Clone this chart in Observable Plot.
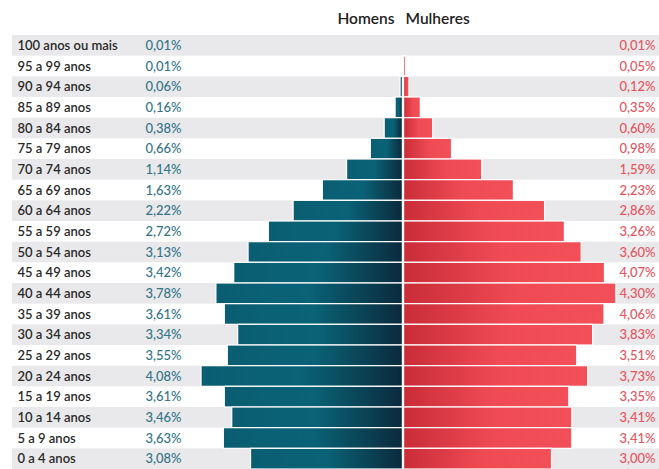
<!DOCTYPE html>
<html>
<head>
<meta charset="utf-8">
<script src="https://cdn.jsdelivr.net/npm/d3@7"></script>
<script src="https://cdn.jsdelivr.net/npm/@observablehq/plot@0.6"></script>
<style>
  body { margin: 0; background: #fff; }
  #chart svg { display: block; }
</style>
</head>
<body>
<div id="chart"></div>
<script>
const ages = ["100 anos ou mais","95 a 99 anos","90 a 94 anos","85 a 89 anos","80 a 84 anos","75 a 79 anos","70 a 74 anos","65 a 69 anos","60 a 64 anos","55 a 59 anos","50 a 54 anos","45 a 49 anos","40 a 44 anos","35 a 39 anos","30 a 34 anos","25 a 29 anos","20 a 24 anos","15 a 19 anos","10 a 14 anos","5 a 9 anos","0 a 4 anos"];
const homens = [0.01,0.01,0.06,0.16,0.38,0.66,1.14,1.63,2.22,2.72,3.13,3.42,3.78,3.61,3.34,3.55,4.08,3.61,3.46,3.63,3.08];
const mulheres = [0.01,0.05,0.12,0.35,0.60,0.98,1.59,2.23,2.86,3.26,3.60,4.07,4.30,4.06,3.83,3.51,3.73,3.35,3.41,3.41,3.00];
const seriesLabels = ["Homens", "Mulheres"];

const rows = ages.map((age, i) => ({age, i, male: homens[i], female: mulheres[i]}));
const fmt = v => v.toFixed(2).replace(".", ",") + "%";

const W = 659, H = 469, center = 403, pxPer = 49.5;

const svg = Plot.plot({
  width: W,
  height: H,
  marginTop: 35,
  marginBottom: 0,
  marginLeft: 0,
  marginRight: 0,
  style: {fontFamily: "Lato, 'Open Sans', sans-serif", background: "#fff"},
  x: {domain: [-center / pxPer, (W - center) / pxPer], axis: null},
  y: {domain: ages, padding: 0, round: false, axis: null},
  marks: [
    Plot.cell(rows.filter(d => d.i % 2 === 0), {y: "age", fill: "#e9e9eb", insetLeft: 12}),
    Plot.barX(rows, {y: "age", x: d => -d.male, fill: "url(#gradMale)", stroke: "#fff", strokeWidth: 1.2, insetRight: 0.6}),
    Plot.barX(rows, {y: "age", x: "female", fill: "url(#gradFemale)", stroke: "#fff", strokeWidth: 1.2, insetLeft: 0.6}),
    Plot.text(rows, {y: "age", text: "age", frameAnchor: "left", dx: 17, textAnchor: "start", fill: "#2a2a2a", fontSize: 13, fontWeight: 600}),
    Plot.text(rows, {y: "age", text: d => fmt(d.male), frameAnchor: "left", dx: 145, textAnchor: "start", fill: "#327488", fontSize: 13, fontWeight: 500}),
    Plot.text(rows, {y: "age", text: d => fmt(d.female), frameAnchor: "right", dx: -4, textAnchor: "end", fill: "#e8535d", fontSize: 13, fontWeight: 500}),
    Plot.text([seriesLabels[0]], {x: 0, text: d => d, frameAnchor: "top", lineAnchor: "middle", dy: -16, dx: -9, textAnchor: "end", fill: "#222", fontSize: 15.5, fontWeight: 600}),
    Plot.text([seriesLabels[1]], {x: 0, text: d => d, frameAnchor: "top", lineAnchor: "middle", dy: -16, dx: 2, textAnchor: "start", fill: "#222", fontSize: 15.5, fontWeight: 600})
  ]
});

const defs = d3.select(svg).insert("defs", ":first-child");
const gm = defs.append("linearGradient").attr("id", "gradMale").attr("x1", 0).attr("x2", 1).attr("y1", 0).attr("y2", 0);
gm.append("stop").attr("offset", "0%").attr("stop-color", "#0b5e72");
gm.append("stop").attr("offset", "50%").attr("stop-color", "#0a6276");
gm.append("stop").attr("offset", "100%").attr("stop-color", "#0b2a3c");
const gf = defs.append("linearGradient").attr("id", "gradFemale").attr("x1", 0).attr("x2", 1).attr("y1", 0).attr("y2", 0);
gf.append("stop").attr("offset", "0%").attr("stop-color", "#c92d38");
gf.append("stop").attr("offset", "55%").attr("stop-color", "#f04b55");
gf.append("stop").attr("offset", "100%").attr("stop-color", "#f24f59");

document.getElementById("chart").appendChild(svg);
</script>
</body>
</html>
